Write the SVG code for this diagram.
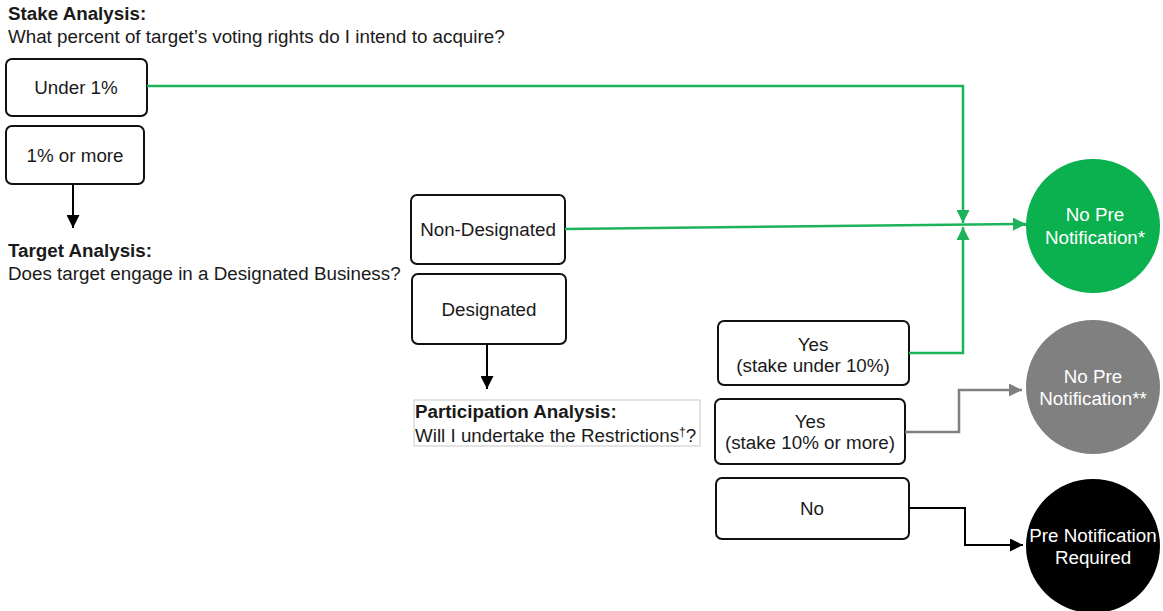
<svg xmlns="http://www.w3.org/2000/svg" width="1163" height="611" viewBox="0 0 1163 611">
<style>
text{font-family:"Liberation Sans",Arial,sans-serif;font-size:18.8px;fill:#1a1a1a}
.b{font-weight:bold}
.c{text-anchor:middle}
.w{fill:#fff}
.box{fill:#fff;stroke:#111;stroke-width:2}
.g{fill:none;stroke:#1db35a;stroke-width:2.5}
.gr{fill:none;stroke:#808080;stroke-width:2.5}
.k{fill:none;stroke:#000;stroke-width:2}
</style>
<defs>
<marker id="ag" viewBox="0 0 10 10" refX="10" refY="5" markerWidth="13" markerHeight="13" orient="auto" markerUnits="userSpaceOnUse"><path d="M0,0L10,5L0,10z" fill="#1db35a"/></marker>
<marker id="agr" viewBox="0 0 10 10" refX="10" refY="5" markerWidth="13" markerHeight="13" orient="auto" markerUnits="userSpaceOnUse"><path d="M0,0L10,5L0,10z" fill="#808080"/></marker>
<marker id="ak" viewBox="0 0 10 10" refX="10" refY="5" markerWidth="13" markerHeight="13" orient="auto" markerUnits="userSpaceOnUse"><path d="M0,0L10,5L0,10z" fill="#000"/></marker>
</defs>
<g id="stake-label">
<text x="8" y="20" class="b">Stake Analysis:</text>
<text x="8" y="43">What percent of target’s voting rights do I intend to acquire?</text>
</g>
<g id="under1"><rect class="box" x="6" y="59" width="141" height="57" rx="6"/><text x="76" y="94" class="c">Under 1%</text></g>
<g id="more1"><rect class="box" x="6" y="126" width="138" height="58" rx="6"/><text x="75" y="162" class="c">1% or more</text></g>
<g id="target-label">
<text x="8" y="257" class="b">Target Analysis:</text>
<text x="8" y="280">Does target engage in a Designated Business?</text>
</g>
<g id="nondesig"><rect class="box" x="411" y="195" width="154" height="69" rx="6"/><text x="488" y="236" class="c">Non-Designated</text></g>
<g id="desig"><rect class="box" x="412" y="274" width="154" height="70" rx="6"/><text x="489" y="316" class="c">Designated</text></g>
<g id="particip-label">
<rect x="414" y="400" width="286" height="46" fill="#fff" stroke="#c8c8c8" stroke-width="1"/>
<text x="415" y="418" class="b">Participation Analysis:</text>
<text x="415" y="442">Will I undertake the Restrictions<tspan font-size="12" dy="-6">†</tspan><tspan dy="6">?</tspan></text>
</g>
<g id="yes-under10"><rect class="box" x="718" y="321" width="191" height="64" rx="6"/><text x="813" y="351" class="c">Yes</text><text x="813" y="372" class="c">(stake under 10%)</text></g>
<g id="yes-10more"><rect class="box" x="715" y="399" width="190" height="65" rx="6"/><text x="810" y="428" class="c">Yes</text><text x="810" y="449" class="c">(stake 10% or more)</text></g>
<g id="no"><rect class="box" x="716" y="478" width="193" height="61" rx="6"/><text x="812" y="515" class="c">No</text></g>
<g id="no-pre-1"><circle cx="1093" cy="226" r="67" fill="#0ab14e"/><text x="1095" y="221" class="c w">No Pre</text><text x="1095" y="244" class="c w">Notification*</text></g>
<g id="no-pre-2"><circle cx="1093" cy="387" r="67" fill="#808080"/><text x="1093" y="383" class="c w">No Pre</text><text x="1093" y="405" class="c w">Notification**</text></g>
<g id="pre-req"><circle cx="1093" cy="546" r="67" fill="#000"/><text x="1093" y="542" class="c w">Pre Notification</text><text x="1093" y="564" class="c w">Required</text></g>
<g id="connectors">
<path class="k" d="M73,184V228" marker-end="url(#ak)"/>
<path class="k" d="M487,344V389" marker-end="url(#ak)"/>
<path class="g" d="M147,86H963V223" marker-end="url(#ag)"/>
<path class="g" d="M565,229L1026,224" marker-end="url(#ag)"/>
<path class="g" d="M909,353H963V227" marker-end="url(#ag)"/>
<path class="gr" d="M905,432H959V390H1022" marker-end="url(#agr)"/>
<path class="k" d="M909,508H965V545H1023" marker-end="url(#ak)"/>
</g>
</svg>
